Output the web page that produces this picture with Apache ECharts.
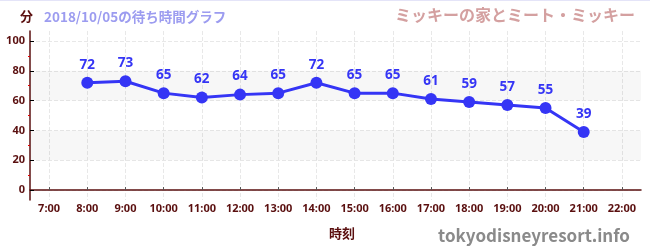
<!DOCTYPE html>
<html><head><meta charset="utf-8">
<script src="https://cdn.jsdelivr.net/npm/echarts@6/dist/echarts.min.js"></script>
<style>html,body{margin:0;padding:0;background:#fff}#c{width:650px;height:250px;border-top:1px solid #e4e4f8;box-sizing:border-box}</style>
</head><body><div id="c"></div>
<script>
const hours = [8, 9, 10, 11, 12, 13, 14, 15, 16, 17, 18, 19, 20, 21];
const waits = [72, 73, 65, 62, 64, 65, 72, 65, 65, 61, 59, 57, 55, 39];
const xTicks = [7, 8, 9, 10, 11, 12, 13, 14, 15, 16, 17, 18, 19, 20, 21, 22];
const yTicks = [0, 20, 40, 60, 80, 100];
const yMinor = [10, 30, 50, 70, 90];
const bands = [[20, 40], [60, 80]];

const chart = echarts.init(document.getElementById('c'));
const axisColor = '#5a0f0f';
const font = "'Noto Sans CJK JP', 'Noto Sans', sans-serif";
chart.setOption({
  animation: false,
  textStyle: {fontFamily: font},
  title: [
    {text: '分', left: 15, top: 4, textStyle: {color: axisColor, fontSize: 13, fontWeight: 'bold', fontFamily: font}},
    {text: '2018/10/05の待ち時間グラフ', left: 39, top: 4, textStyle: {color: '#9c9cf0', fontSize: 13.5, fontWeight: 'bold', fontFamily: font}},
    {text: 'ミッキーの家とミート・ミッキー', right: 10, top: 1, textStyle: {color: '#d4a0a0', fontSize: 16, fontWeight: 'bold', fontFamily: font}},
    {text: '時刻', left: 337, top: 221, textAlign: 'center', textStyle: {color: axisColor, fontSize: 13, fontWeight: 'bold', fontFamily: font}},
    {text: 'tokyodisneyresort.info', right: 15, top: 221, textStyle: {color: '#8a8a8a', fontSize: 17, fontWeight: 'bold', fontFamily: font}}
  ],
  grid: {left: 30, right: 9, top: 30, bottom: 50, containLabel: false},
  xAxis: {
    type: 'value', min: 6.5, max: 22.5,
    axisLine: {show: true, lineStyle: {color: axisColor, width: 1.5}},
    axisTick: {show: true, inside: true, length: 3, customValues: xTicks, lineStyle: {color: '#555'}},
    axisLabel: {customValues: xTicks, formatter: v => v + ':00', color: axisColor, fontSize: 11, fontWeight: 'bold', margin: 3, fontFamily: 'Noto Sans'},
    splitLine: {show: true, lineStyle: {color: '#e8e8e8', type: 'dashed'}}
  },
  yAxis: [{
    type: 'value', min: -6.67, max: 106.67,
    axisLine: {show: true, lineStyle: {color: axisColor, width: 1.5}},
    axisTick: {show: true, inside: true, length: 4, customValues: yTicks, lineStyle: {color: '#000'}},
    axisLabel: {customValues: yTicks, color: axisColor, fontSize: 11, fontWeight: 'bold', margin: 5, fontFamily: 'Noto Sans'},
    splitLine: {show: true, lineStyle: {color: '#e8e8e8', type: 'dashed'}}
  }, {
    type: 'value', min: -6.67, max: 106.67, position: 'left',
    axisLine: {show: false},
    axisTick: {show: true, length: 2, customValues: yMinor, lineStyle: {color: '#e00000'}},
    axisLabel: {show: false},
    splitLine: {show: false}
  }],
  series: [{
    type: 'line',
    data: hours.map((h, i) => [h, waits[i]]),
    symbol: 'circle', symbolSize: 12,
    itemStyle: {color: '#3535f5'},
    lineStyle: {color: '#3535f5', width: 3},
    label: {show: true, position: 'top', distance: 5, color: '#3535f5', fontSize: 13.5, fontWeight: 'bold', fontFamily: 'Noto Sans'},
    markArea: {
      silent: true,
      itemStyle: {color: 'rgba(0,0,0,0.03)'},
      data: bands.map(b => [{yAxis: b[0]}, {yAxis: b[1]}])
    }
  }]
});
</script></body></html>
